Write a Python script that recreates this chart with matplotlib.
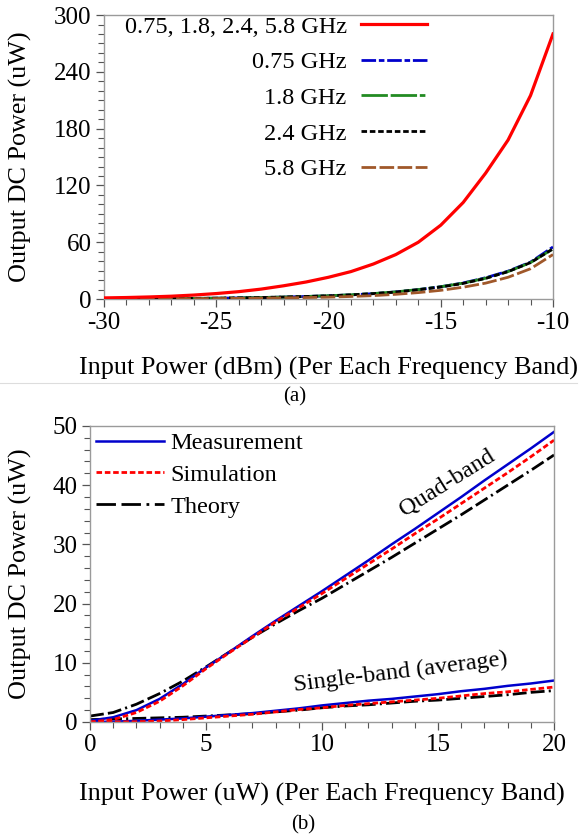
import matplotlib
matplotlib.use("Agg")
import matplotlib.pyplot as plt
from matplotlib.ticker import MultipleLocator
from matplotlib.lines import Line2D

plt.rcParams["font.family"] = ["Liberation Serif", "DejaVu Serif"]
plt.rcParams["lines.scale_dashes"] = False
plt.rcParams["axes.unicode_minus"] = False

# (a) output DC power vs input power (dBm)
pin_dbm = [-30, -29, -28, -27, -26, -25, -24, -23, -22, -21, -20,
           -19, -18, -17, -16, -15, -14, -13, -12, -11, -10]
p_quad = [1.2, 1.6, 2.2, 3.0, 4.2, 5.8, 7.8, 10.5, 14, 18, 23,
          29, 37, 47, 60, 78, 102, 133, 168, 215, 280]
p_075 = [0.2, 0.3, 0.4, 0.5, 0.7, 0.9, 1.2, 1.6, 2.1, 2.7, 3.4,
         4.4, 5.7, 7.5, 10, 13, 17, 22.5, 29.5, 39, 55]
p_18 = [0.2, 0.3, 0.4, 0.5, 0.7, 0.9, 1.2, 1.6, 2.1, 2.7, 3.5,
        4.5, 5.8, 7.6, 10, 13, 16.8, 22, 29, 38.5, 53]
p_24 = [0.2, 0.3, 0.4, 0.5, 0.7, 0.9, 1.2, 1.6, 2.1, 2.7, 3.4,
        4.4, 5.7, 7.4, 9.8, 12.7, 16.5, 21.8, 29, 38.5, 53]
p_58 = [0.1, 0.1, 0.2, 0.3, 0.4, 0.5, 0.7, 0.9, 1.2, 1.6, 2.0,
        2.7, 3.6, 5.0, 6.8, 9.2, 12.5, 16.8, 23, 32, 47]

# (b) output DC power vs input power (uW)
pin_uw = [0, 1, 2, 3, 4, 5, 6, 7, 8, 9, 10, 11, 12, 13, 14, 15, 16, 17, 18, 19, 20]
quad_meas = [0.2, 0.8, 2.0, 3.9, 6.4, 9.2, 11.8, 14.5, 17.1, 19.6, 22.1,
             24.7, 27.3, 30.0, 32.6, 35.3, 38.0, 40.8, 43.5, 46.2, 49.0]
quad_sim = [0.0, 0.4, 1.6, 3.5, 6.1, 9.0, 11.7, 14.3, 16.9, 19.3, 21.7,
            24.2, 26.7, 29.2, 31.8, 34.3, 36.9, 39.5, 42.1, 44.8, 47.6]
quad_theory = [1.0, 1.6, 3.0, 4.8, 6.9, 9.3, 11.8, 14.3, 16.6, 18.8, 20.9,
               23.2, 25.5, 27.8, 30.2, 32.6, 35.0, 37.5, 40.0, 42.5, 45.1]
single_meas = [0.0, 0.05, 0.2, 0.4, 0.6, 0.9, 1.2, 1.5, 1.9, 2.3, 2.8,
               3.2, 3.6, 3.9, 4.3, 4.7, 5.2, 5.6, 6.1, 6.5, 7.0]
single_sim = [0.0, 0.0, 0.05, 0.15, 0.4, 0.7, 1.0, 1.3, 1.7, 2.1, 2.4,
              2.8, 3.1, 3.4, 3.7, 4.0, 4.4, 4.8, 5.1, 5.5, 5.9]
single_theory = [0.4, 0.5, 0.6, 0.7, 0.8, 1.0, 1.2, 1.4, 1.7, 2.0, 2.4,
                 2.7, 2.9, 3.2, 3.5, 3.7, 4.0, 4.3, 4.6, 5.0, 5.3]

RED = "#ff0000"
BLUE = "#0000cc"
GREEN = "#228b22"
BROWN = "#a0582a"
SPINE = "#9a9a9a"
THEORY_DASH = (10, 3, 10, 3, 1.5, 3)

TICK_FS = 18
LABEL_FS = 18.8
LEG_FS = 17.5

fig = plt.figure(figsize=(5.83, 8.4), dpi=100)
ax1 = fig.add_axes([0.1784, 0.6440, 0.7701, 0.3381])
ax2 = fig.add_axes([0.1544, 0.1405, 0.7959, 0.3524])


def style_axes(ax):
    for s in ax.spines.values():
        s.set_color(SPINE)
        s.set_linewidth(1.0)
    ax.tick_params(which="both", direction="out", colors="#555555",
                   labelcolor="black", labelsize=TICK_FS, top=False, right=False)
    ax.tick_params(which="major", length=6, width=0.9, pad=3)
    ax.tick_params(which="minor", length=4, width=0.8)


# ---- panel (a)
ax1.plot(pin_dbm, p_075, color=BLUE, lw=2.0, dashes=(10.5, 2, 4, 2),
         label="0.75 GHz", zorder=3)
ax1.plot(pin_dbm, p_18, color=GREEN, lw=2.0, dashes=(19, 2, 19, 2, 4, 2),
         label="1.8 GHz", zorder=3)
ax1.plot(pin_dbm, p_24, color="black", lw=2.0, dashes=(4, 2),
         label="2.4 GHz", zorder=3)
ax1.plot(pin_dbm, p_58, color=BROWN, lw=2.0, dashes=(10.5, 2.5),
         label="5.8 GHz", zorder=3)
ax1.plot(pin_dbm, p_quad, color=RED, lw=2.3,
         label="0.75, 1.8, 2.4, 5.8 GHz", zorder=4)

ax1.set_xlim(-30, -10)
ax1.set_ylim(0, 300)
ax1.xaxis.set_major_locator(MultipleLocator(5))
ax1.xaxis.set_minor_locator(MultipleLocator(1))
ax1.yaxis.set_major_locator(MultipleLocator(60))
ax1.yaxis.set_minor_locator(MultipleLocator(10))
style_axes(ax1)
ax1.set_xlabel("Input Power (dBm) (Per Each Frequency Band)", fontsize=LABEL_FS)
ax1.set_ylabel("Output DC Power (uW)", fontsize=LABEL_FS)
ax1.xaxis.set_label_coords(0.5, -0.205)
ax1.yaxis.set_label_coords(-0.16, 0.5)

h, l = ax1.get_legend_handles_labels()
order = [4, 0, 1, 2, 3]
ax1.legend([h[i] for i in order], [l[i] for i in order], loc="upper right",
           bbox_to_anchor=(0.73, 1.015), frameon=False, markerfirst=False,
           fontsize=LEG_FS, handlelength=2.7, handletextpad=0.6,
           labelspacing=0.56, borderaxespad=0.0, borderpad=0.2)

# ---- panel (b)
ax2.plot(pin_uw, quad_theory, color="black", lw=2.0, dashes=THEORY_DASH)
ax2.plot(pin_uw, single_theory, color="black", lw=2.0, dashes=THEORY_DASH)
ax2.plot(pin_uw, quad_meas, color=BLUE, lw=1.8)
ax2.plot(pin_uw, single_meas, color=BLUE, lw=1.8)
ax2.plot(pin_uw, quad_sim, color=RED, lw=2.0, dashes=(4, 2))
ax2.plot(pin_uw, single_sim, color=RED, lw=2.0, dashes=(4, 2))

ax2.set_xlim(0, 20)
ax2.set_ylim(0, 50)
ax2.xaxis.set_major_locator(MultipleLocator(5))
ax2.xaxis.set_minor_locator(MultipleLocator(1))
ax2.yaxis.set_major_locator(MultipleLocator(10))
ax2.yaxis.set_minor_locator(MultipleLocator(2))
style_axes(ax2)
ax2.set_xlabel("Input Power (uW) (Per Each Frequency Band)", fontsize=LABEL_FS)
ax2.set_ylabel("Output DC Power (uW)", fontsize=LABEL_FS)
ax2.xaxis.set_label_coords(0.5, -0.205)
ax2.yaxis.set_label_coords(-0.125, 0.5)

ax2.text(15.4, 40.4, "Quad-band", fontsize=LEG_FS, rotation=32,
         ha="center", va="center", rotation_mode="anchor")
ax2.text(13.4, 8.3, "Single-band (average)", fontsize=LEG_FS, rotation=7,
         ha="center", va="center", rotation_mode="anchor")

leg_handles = [
    Line2D([], [], color=BLUE, lw=1.8),
    Line2D([], [], color=RED, lw=2.0, dashes=(4, 2)),
    Line2D([], [], color="black", lw=2.0, dashes=(14, 4, 14, 4, 2, 4)),
]
ax2.legend(leg_handles, ["Measurement", "Simulation", "Theory"], loc="upper left",
           frameon=False, fontsize=LEG_FS, handlelength=2.8, handletextpad=0.25,
           labelspacing=0.4, borderaxespad=0.05, borderpad=0.2)

fig.text(0.506, 1 - 397 / 840, "(a)", fontsize=15, ha="center", va="center")
fig.text(0.520, 1 - 825 / 840, "(b)", fontsize=15, ha="center", va="center")
fig.add_artist(Line2D([0.0, 0.99], [1 - 383 / 840] * 2, color="#dddddd", lw=0.8))

fig.savefig("out.png", dpi=100)
